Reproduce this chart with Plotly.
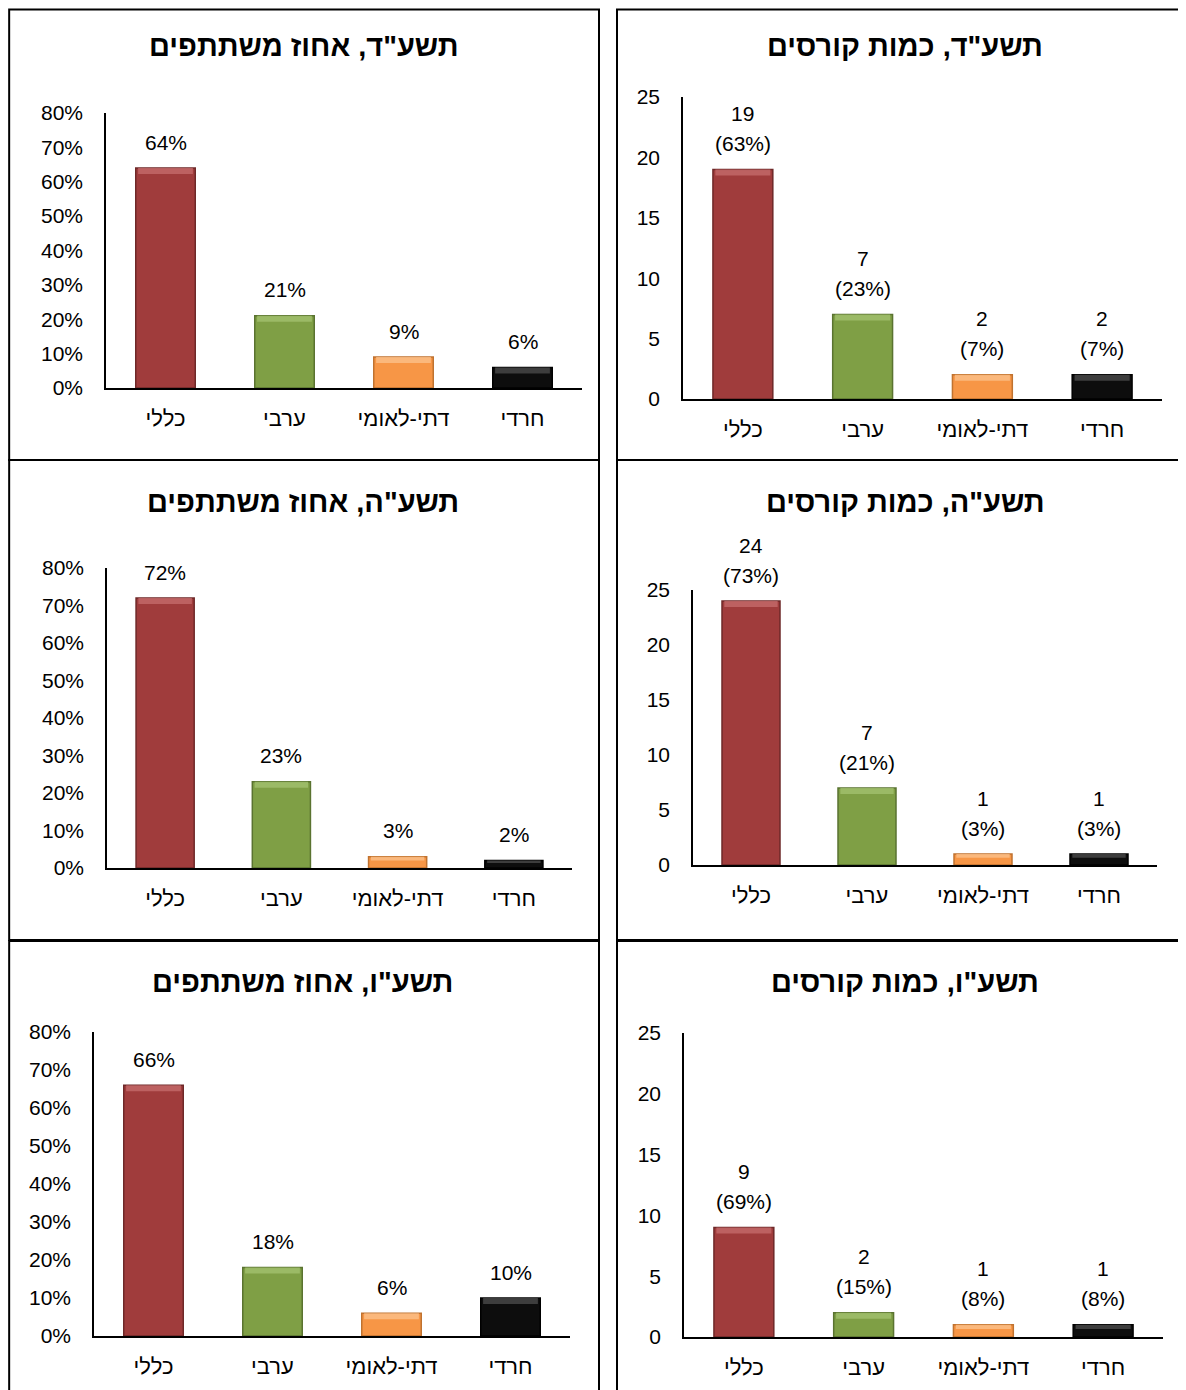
import plotly.graph_objects as go

# page has an 8px body margin; figure sized so page fits the 1186x1390 window
OFF = 8
W, H = 1186 - 2 * OFF, 1390 - OFF

categories = ["כללי", "ערבי", "דתי-לאומי", "חרדי"]
bar_colors = ["#A03C3C", "#7F9F45", "#F79646", "#0D0D0D"]
edge_colors = ["#6E2828", "#5A7330", "#C0722F", "#000000"]
top_colors = ["#C46A6A", "#A3C06E", "#FBC08A", "#4A4A4A"]

# participation share (left column)
pct_5774 = [0.64, 0.21, 0.09, 0.06]
pct_5775 = [0.72, 0.23, 0.03, 0.02]
pct_5776 = [0.66, 0.18, 0.06, 0.10]

# course counts (right column) and their shares
cnt_5774 = [19, 7, 2, 2]
cnt_5774_share = [63, 23, 7, 7]
cnt_5775 = [24, 7, 1, 1]
cnt_5775_share = [73, 21, 3, 3]
cnt_5776 = [9, 2, 1, 1]
cnt_5776_share = [69, 15, 8, 8]

titles = [
    'תשע"ד, אחוז משתתפים', 'תשע"ד, כמות קורסים',
    'תשע"ה, אחוז משתתפים', 'תשע"ה, כמות קורסים',
    'תשע"ו, אחוז משתתפים', 'תשע"ו, כמות קורסים',
]

FONT = "Liberation Sans, Arial, sans-serif"

# plot areas in window pixels: (left, right, top, bottom)
plot_boxes = [
    (106, 582, 113, 388),
    (683, 1162, 97, 399),
    (107, 572, 568, 868),
    (693, 1157, 590, 865),
    (94, 570, 1032, 1336),
    (684, 1163, 1033, 1337),
]
# panel frames in window pixels
panel_boxes = [
    (9, 599, 5, 460),
    (617, 1200, 5, 460),
    (9, 599, 460, 940),
    (617, 1200, 460, 940),
    (7, 599, 941, 1400),
    (617, 1200, 941, 1400),
]
title_pos = [(303, 46), (905, 46), (303, 502), (905, 502), (302, 982), (905, 982)]


def px_x(v):
    return (v - OFF) / W


def px_y(v):
    return 1 - (v - OFF) / H


fig = go.Figure()
layout = dict(
    width=W, height=H, margin=dict(l=0, r=0, t=0, b=0, autoexpand=False),
    paper_bgcolor="white", plot_bgcolor="white", showlegend=False,
    font=dict(family=FONT, size=21, color="#000000"),
    barmode="overlay",
)
annotations = []
shapes = []

panels = [
    ("pct", pct_5774, None),
    ("cnt", cnt_5774, cnt_5774_share),
    ("pct", pct_5775, None),
    ("cnt", cnt_5775, cnt_5775_share),
    ("pct", pct_5776, None),
    ("cnt", cnt_5776, cnt_5776_share),
]

for i, (kind, vals, shares) in enumerate(panels):
    n = i + 1
    xa = "x" if n == 1 else f"x{n}"
    ya = "y" if n == 1 else f"y{n}"
    xkey = "xaxis" if n == 1 else f"xaxis{n}"
    ykey = "yaxis" if n == 1 else f"yaxis{n}"
    l, r, t, b = plot_boxes[i]
    ymax = 0.8 if kind == "pct" else 25

    fig.add_trace(go.Bar(
        x=categories, y=vals, xaxis=xa, yaxis=ya, width=0.5,
        marker=dict(color=bar_colors, line=dict(color=edge_colors, width=1.5)),
        hoverinfo="skip",
    ))
    # light bevel band at the top of each bar (about 6px, at most a third of the bar)
    unit = ymax / (b - t)
    band = [min(6 * unit, v / 3) for v in vals]
    fig.add_trace(go.Bar(
        x=categories, y=band, base=[v - d for v, d in zip(vals, band)],
        xaxis=xa, yaxis=ya, width=0.46,
        marker=dict(color=top_colors, opacity=0.8, line=dict(width=0)),
        hoverinfo="skip",
    ))

    layout[xkey] = dict(
        domain=[px_x(l), px_x(r)], anchor=ya, type="category",
        categoryorder="array", categoryarray=categories,
        showline=True, linecolor="#000000", linewidth=2, showgrid=False,
        ticks="", ticklabelstandoff=10, tickfont=dict(size=22, family=FONT),
        zeroline=False, fixedrange=True, automargin=False,
    )
    if kind == "pct":
        yax = dict(range=[0, 0.8], dtick=0.1, tickformat=".0%")
    else:
        yax = dict(range=[0, 25], dtick=5)
    yax.update(
        domain=[px_y(b), px_y(t)], anchor=xa,
        showline=True, linecolor="#000000", linewidth=1.5, showgrid=False,
        ticks="", ticklabelstandoff=17, tickfont=dict(size=21, family=FONT),
        zeroline=False, fixedrange=True, automargin=False,
    )
    layout[ykey] = yax

    if kind == "pct":
        for c, v in zip(categories, vals):
            annotations.append(dict(
                x=c, y=v, xref=xa, yref=ya, text=f"{round(v * 100)}%",
                showarrow=False, yanchor="middle", yshift=26,
                font=dict(size=21, family=FONT),
            ))
    else:
        for c, v, s in zip(categories, vals, shares):
            annotations.append(dict(
                x=c, y=v, xref=xa, yref=ya, text=f"({s}%)",
                showarrow=False, yanchor="middle", yshift=26,
                font=dict(size=21, family=FONT),
            ))
            annotations.append(dict(
                x=c, y=v, xref=xa, yref=ya, text=f"{v}",
                showarrow=False, yanchor="middle", yshift=56,
                font=dict(size=21, family=FONT),
            ))

    tx, ty = title_pos[i]
    annotations.append(dict(
        x=px_x(tx), y=px_y(ty), xref="paper", yref="paper",
        text=f"<b>{titles[i]}</b>", showarrow=False,
        xanchor="center", yanchor="middle",
        font=dict(size=29, family=FONT, color="#000000"),
    ))

    pl, pr, pt, pb = panel_boxes[i]
    shapes.append(dict(
        type="rect", xref="paper", yref="paper",
        x0=max(px_x(pl), 0.001), x1=px_x(pr), y0=px_y(pb), y1=min(px_y(pt), 0.999),
        line=dict(color="#000000", width=2), fillcolor="rgba(0,0,0,0)",
        layer="above",
    ))

layout["annotations"] = annotations
layout["shapes"] = shapes
fig.update_layout(**layout)

fig.write_html("out.html")
